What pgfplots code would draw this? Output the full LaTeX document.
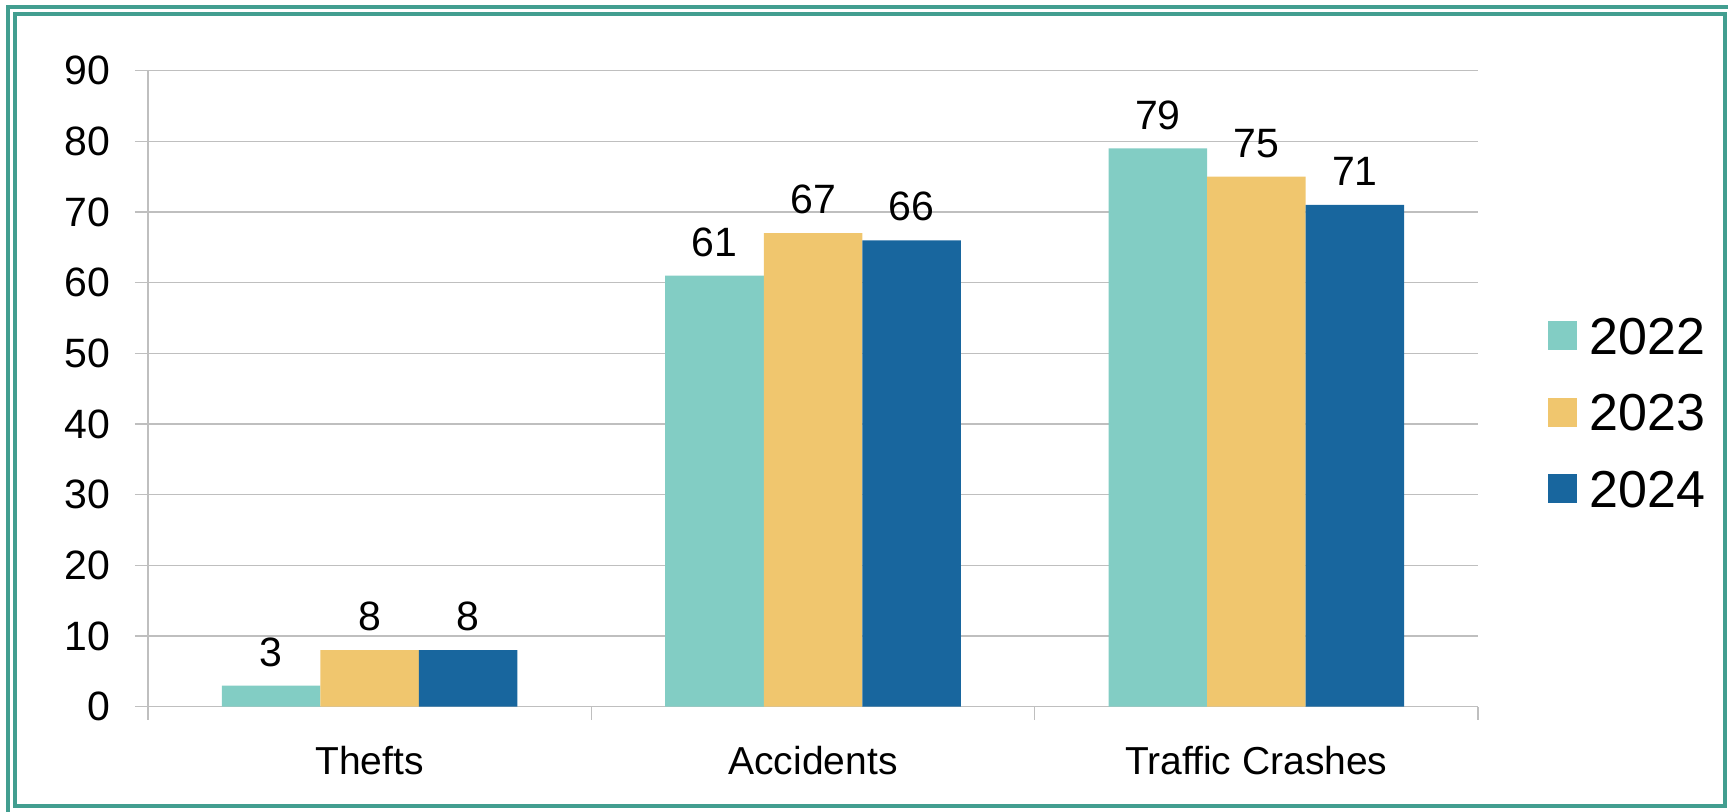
\documentclass[border=0pt]{standalone}
\usepackage{pgfplots}
\pgfplotsset{compat=1.18}
\usepackage{fontspec}
\setmainfont{Liberation Sans}

\definecolor{c2022}{RGB}{130,205,196}
\definecolor{c2023}{RGB}{240,198,110}
\definecolor{c2024}{RGB}{24,102,158}
\definecolor{frame}{RGB}{66,158,144}
\definecolor{gridgray}{RGB}{191,191,191}

\pgfplotsset{/pgf/number format/assume math mode=true}

\begin{document}
\begin{tikzpicture}
% page extent
\useasboundingbox (0,0) rectangle (864pt,405.5pt);
% double frame (outer one runs off the right and bottom edges)
\draw[frame, line width=2pt] (4pt,-10pt) -- (4pt,402pt) -- (880pt,402pt);
\draw[frame, line width=2pt] (7.5pt,2.5pt) rectangle (862.5pt,398.5pt);

\begin{axis}[
  at={(74pt,52.15pt)}, anchor=south west,
  width=665pt, height=318pt, scale only axis,
  xmin=-0.5, xmax=2.5, ymin=0, ymax=90,
  ybar=0pt, bar width=0.2222,
  axis x line*=bottom, axis y line*=left,
  axis line style={gridgray, line width=0.7pt},
  xtick={0,1,2},
  xticklabels={Thefts,Accidents,Traffic Crashes},
  major x tick style={draw=none},
  minor xtick={-0.5,0.5,1.5,2.5},
  minor x tick style={gridgray, line width=0.7pt},
  ytick={0,10,...,90},
  y tick style={gridgray, line width=0.7pt},
  tick align=outside,
  major tick length=6.5pt, minor tick length=6.5pt,
  ymajorgrids,
  major grid style={gridgray, line width=0.7pt},
  tick label style={font=\fontsize{20.5}{24}\selectfont, inner sep=0pt},
  yticklabel style={xshift=-12pt},
  xticklabel style={yshift=-13pt, font=\fontsize{19.5}{23}\selectfont},
  nodes near coords,
  every node near coord/.append style={font=\fontsize{20.5}{24}\selectfont, inner sep=0pt, yshift=9.3pt, black},
  legend cell align=left,
  legend style={draw=none, fill=none, inner sep=0pt,
    at={(1.052,0.463)}, anchor=west,
    font=\fontsize{26}{30}\selectfont,
    row sep=19.65pt, column sep=0pt,
    nodes={inner sep=0pt, text height=18.6pt, text depth=0pt}},
  legend image code/.code={%
    \fill[#1] (0pt,-7.25pt) rectangle (14.5pt,7.25pt);
    \path (21pt,0pt);},
]
\addplot[fill=c2022, draw=none] coordinates {(0,3) (1,61) (2,79)};
\addplot[fill=c2023, draw=none] coordinates {(0,8) (1,67) (2,75)};
\addplot[fill=c2024, draw=none] coordinates {(0,8) (1,66) (2,71)};
\legend{2022,2023,2024}
\end{axis}
\end{tikzpicture}
\end{document}
